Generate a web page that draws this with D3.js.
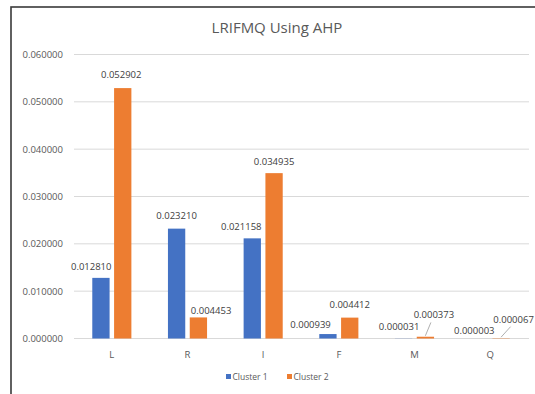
<!DOCTYPE html>
<html>
<head>
<meta charset="utf-8">
<script src="https://cdn.jsdelivr.net/npm/d3@7"></script>
<style>
  html, body { margin: 0; padding: 0; background: #fff; }
  text { font-family: "Open Sans", "Liberation Sans", sans-serif; }
</style>
</head>
<body>
<svg id="chart" width="535" height="394"></svg>
<script>
// ---- data ----
const categories = ["L", "R", "I", "F", "M", "Q"];
const seriesNames = ["Cluster 1", "Cluster 2"];
const cluster1 = [0.012810, 0.023210, 0.021158, 0.000939, 0.000031, 0.000003];
const cluster2 = [0.052902, 0.004453, 0.034935, 0.004412, 0.000373, 0.000067];
const yTicks = [0, 0.01, 0.02, 0.03, 0.04, 0.05, 0.06];
const chartTitle = "LRIFMQ Using AHP";

// ---- layout / style (not data) ----
const colors = ["#4472C4", "#ED7D31"];
const textColor = "#595959";
const barW = 17.3, barGap = 4.5;
// label nudges [dx from bar centre, baseline dy from bar top]
const nudges = [
  [[-9.7, -7.6], [0, -10], [-11, -8.6], [-17.4, -5.8], [-4.5, -8.3], [-5, -4]],
  [[-1.5, -9.6], [12.7, -3.6], [0, -8], [0, -9.2], [8.5, -18.3], [12.5, -15.5]]
];
const leaderFor = [[false,false,false,false,false,false],[false,false,false,false,true,true]];

const svg = d3.select("#chart");

// frame
svg.append("rect").attr("x", 11).attr("y", 7).attr("width", 540).attr("height", 400)
  .attr("fill", "#fff").attr("stroke", "#3a3a3a").attr("stroke-width", 1.6);

const x = d3.scaleBand().domain(categories).range([74, 528]).paddingInner(0).paddingOuter(0);
const y = d3.scaleLinear().domain([0, 0.06]).range([338.5, 54.5]);
const fmt = d3.format(".6f");

// title
svg.append("text").attr("x", 277).attr("y", 33).attr("text-anchor", "middle")
  .attr("font-size", 15).attr("fill", textColor).text(chartTitle);

// gridlines + y axis labels
const yAxis = d3.axisLeft(y).tickValues(yTicks).tickFormat(fmt).tickSize(0).tickPadding(11);
const gy = svg.append("g").attr("transform", "translate(74,0)").call(yAxis);
gy.select(".domain").remove();
gy.selectAll("text").attr("font-size", 9.5).attr("fill", textColor)
  .attr("font-family", "'Open Sans', sans-serif");
svg.append("g").selectAll("line").data(yTicks).join("line")
  .attr("x1", 74).attr("x2", 529)
  .attr("y1", d => y(d)).attr("y2", d => y(d))
  .attr("stroke", "#d9d9d9").attr("stroke-width", 1);

// x axis labels
const xAxis = d3.axisBottom(x).tickSize(0).tickPadding(13);
const gx = svg.append("g").attr("transform", `translate(0,${y(0)})`).call(xAxis);
gx.select(".domain").remove();
gx.selectAll("text").attr("font-size", 9.5).attr("fill", textColor)
  .attr("font-family", "'Open Sans', sans-serif");

// bars
const series = [cluster1, cluster2];
const barX = (cat, s) => x(cat) + x.bandwidth() / 2 + (s === 0 ? -(barGap / 2 + barW) : barGap / 2);

series.forEach((vals, s) => {
  svg.append("g").selectAll("rect").data(vals).join("rect")
    .attr("x", (d, i) => barX(categories[i], s))
    .attr("y", d => y(d))
    .attr("width", barW)
    .attr("height", d => y(0) - y(d))
    .attr("fill", colors[s]);
});

// data labels
series.forEach((vals, s) => {
  const g = svg.append("g");
  vals.forEach((d, i) => {
    const cx = barX(categories[i], s) + barW / 2;
    const top = y(d);
    const lx = cx + nudges[s][i][0];
    const ly = top + nudges[s][i][1];
    g.append("text").attr("x", lx).attr("y", ly).attr("text-anchor", "middle")
      .attr("font-size", 9.5).attr("fill", "#404040").text(fmt(d));
    if (leaderFor[s][i]) {
      g.append("line")
        .attr("x1", lx - 3).attr("y1", ly + 4)
        .attr("x2", cx).attr("y2", top - 1)
        .attr("stroke", "#a6a6a6").attr("stroke-width", 0.9);
    }
  });
});

// legend
const legendX = [226, 287];
seriesNames.forEach((name, s) => {
  svg.append("rect").attr("x", legendX[s]).attr("y", 374).attr("width", 5).attr("height", 5)
    .attr("fill", colors[s]);
  svg.append("text").attr("x", legendX[s] + 6.5).attr("y", 379.5)
    .attr("font-size", 8.5).attr("fill", textColor).text(name);
});
</script>
</body>
</html>
